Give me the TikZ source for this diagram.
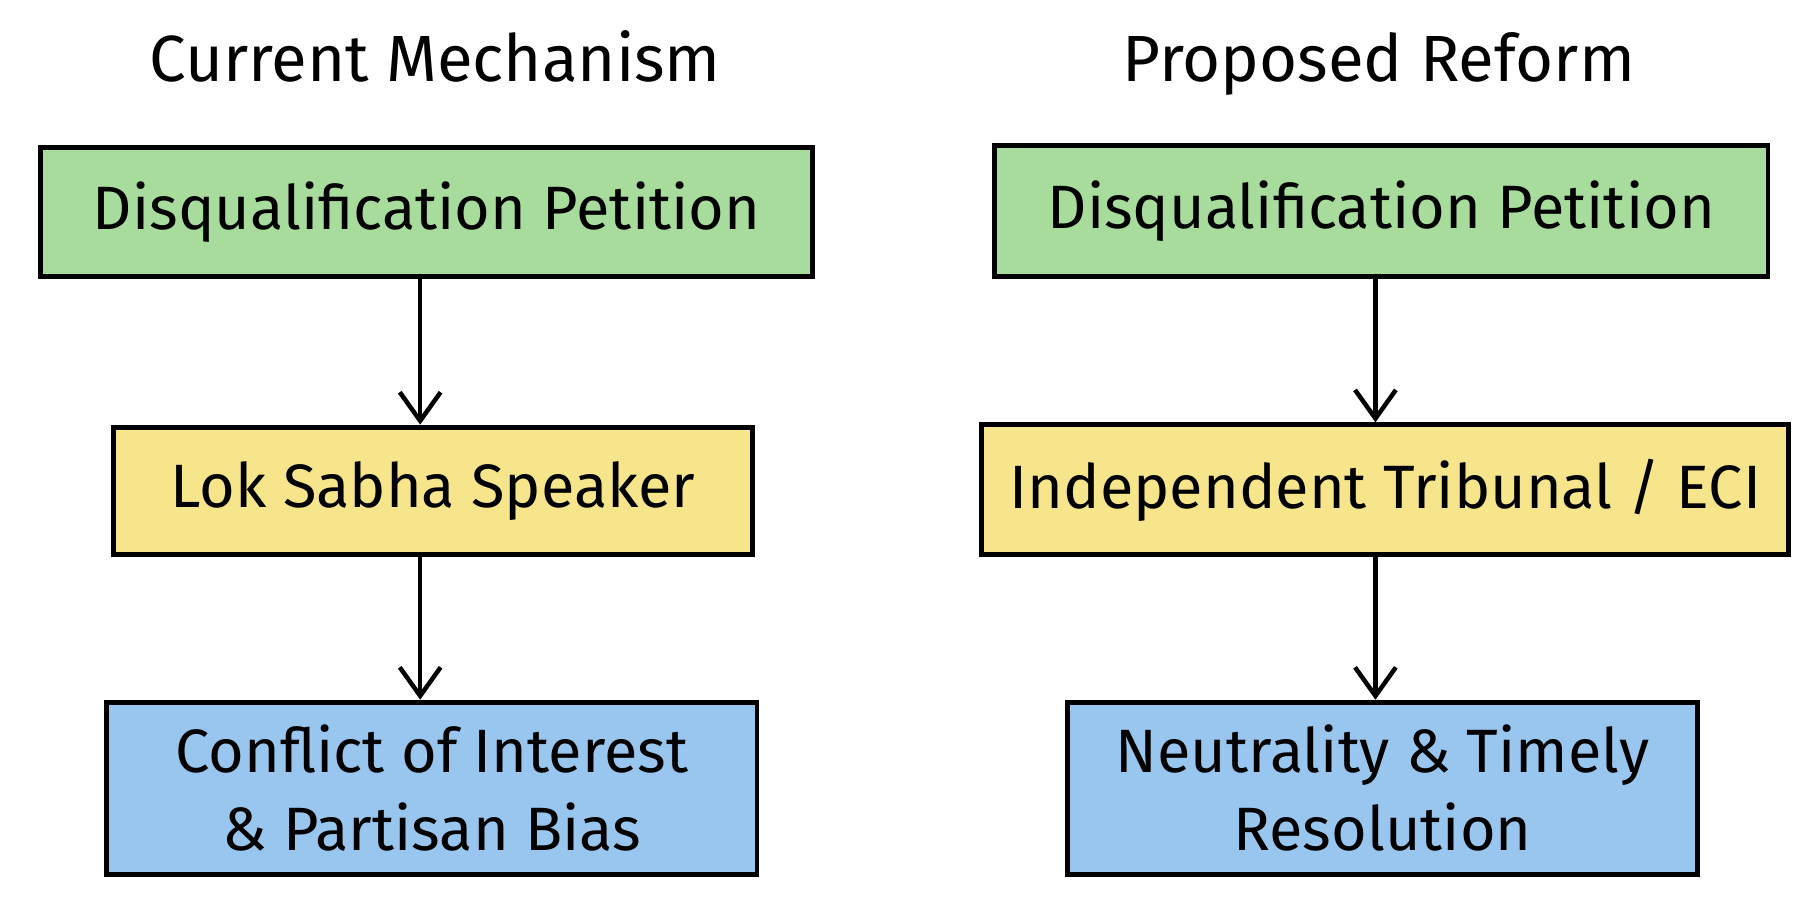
\documentclass[tikz,border=0pt]{standalone}
\usepackage{fontspec}
\setmainfont{Fira Sans}
\usetikzlibrary{arrows.meta}
\definecolor{gr}{HTML}{A8DC9C}
\definecolor{ye}{HTML}{F6E58A}
\definecolor{bl}{HTML}{98C6EE}
\begin{document}
\begin{tikzpicture}[x=0.01cm,y=-0.01cm,
 box/.style={draw=black,line width=1.2pt,font=\fontsize{15}{19}\selectfont,align=center,inner sep=0pt},
 ttl/.style={font=\fontsize{16}{19}\selectfont,anchor=base},
 arr/.style={-{Straight Barb[length=7pt,width=10pt]},line width=1.1pt}]
\useasboundingbox (0,0) rectangle (1568,790);
\node[ttl] (t1) at (375,70) {Current Mechanism};
\node[ttl] (t2) at (1188,70) {Proposed Reform};
\node[box,fill=gr,minimum width=6.65cm,minimum height=1.11cm] (a1) at (367.5,182.5) {Disqualification Petition};
\node[box,fill=ye,minimum width=5.50cm,minimum height=1.10cm] (a2) at (373,423) {Lok Sabha Speaker};
\node[box,fill=bl,minimum width=5.60cm,minimum height=1.48cm] (a3) at (372,679) {Conflict of Interest\\\& Partisan Bias};
\node[box,fill=gr,minimum width=6.66cm,minimum height=1.13cm] (b1) at (1190,181.5) {Disqualification Petition};
\node[box,fill=ye,minimum width=6.95cm,minimum height=1.12cm] (b2) at (1193.5,422) {Independent Tribunal / ECI};
\node[box,fill=bl,minimum width=5.42cm,minimum height=1.48cm] (b3) at (1191,679) {Neutrality \& Timely\\Resolution};
\draw[arr] (a1.south -| 362,0) -- (a2.north -| 362,0);
\draw[arr] (a2.south -| 362,0) -- (a3.north -| 362,0);
\draw[arr] (b1.south -| 1185,0) -- (b2.north -| 1185,0);
\draw[arr] (b2.south -| 1185,0) -- (b3.north -| 1185,0);
\end{tikzpicture}
\end{document}
